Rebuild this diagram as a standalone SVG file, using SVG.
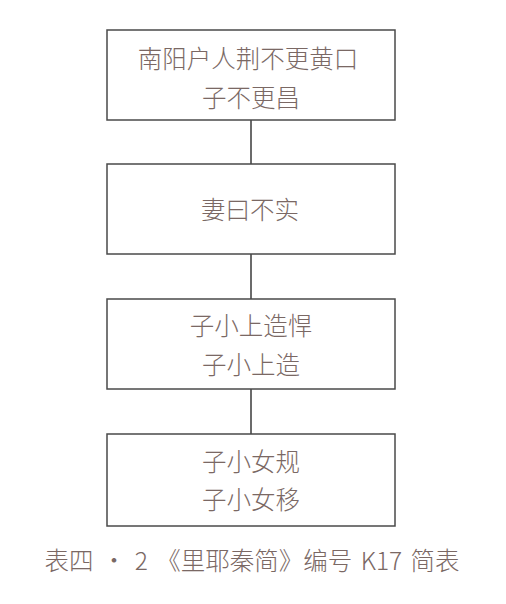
<svg xmlns="http://www.w3.org/2000/svg" width="506" height="604" viewBox="0 0 506 604">
<style>
.box{fill:#fff;stroke:#4a4a4a;stroke-width:1.5}
.t{font-family:"Noto Sans CJK SC","Noto Sans",sans-serif;font-size:24.5px;font-weight:300;fill:#7a6864;text-anchor:middle}
.cap{font-family:"Noto Sans CJK SC","Noto Sans",sans-serif;font-size:24.5px;font-weight:300;fill:#7a6864;text-anchor:middle;word-spacing:3px}
.ln{stroke:#3a3a3a;stroke-width:1.5;fill:none}
</style>
<rect width="506" height="604" fill="#fff"/>
<g id="connectors">
<line class="ln" x1="251" y1="120" x2="251" y2="164"/>
<line class="ln" x1="251" y1="254" x2="251" y2="299"/>
<line class="ln" x1="251" y1="389" x2="251" y2="434"/>
</g>
<g id="node1">
<rect class="box" x="107" y="30" width="288" height="90"/>
<text class="t" x="248" y="68">南阳户人荆不更黄口</text>
<text class="t" x="251" y="107">子不更昌</text>
</g>
<g id="node2">
<rect class="box" x="107" y="164" width="288" height="90"/>
<text class="t" x="250" y="219">妻曰不实</text>
</g>
<g id="node3">
<rect class="box" x="107" y="299" width="288" height="90"/>
<text class="t" x="251" y="335">子小上造悍</text>
<text class="t" x="251" y="374">子小上造</text>
</g>
<g id="node4">
<rect class="box" x="107" y="434" width="288" height="92"/>
<text class="t" x="251" y="471">子小女规</text>
<text class="t" x="251" y="509">子小女移</text>
</g>
<text class="cap" x="252" y="570">表四 · 2 《里耶秦简》编号 K17 简表</text>
</svg>
